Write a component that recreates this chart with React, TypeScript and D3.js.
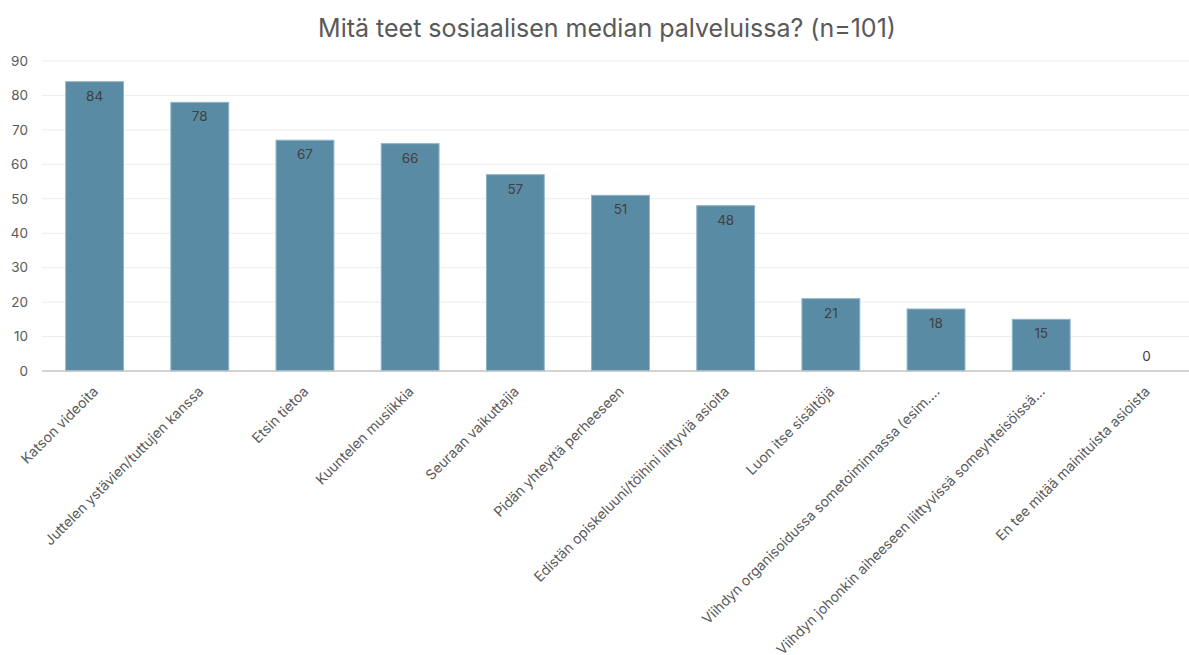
import * as d3 from 'd3'

const categories = [
  'Katson videoita',
  'Juttelen ystävien/tuttujen kanssa',
  'Etsin tietoa',
  'Kuuntelen musiikkia',
  'Seuraan vaikuttajia',
  'Pidän yhteyttä perheeseen',
  'Edistän opiskeluuni/töihini liittyviä asioita',
  'Luon itse sisältöjä',
  'Viihdyn organisoidussa sometoiminnassa (esim.…',
  'Viihdyn johonkin aiheeseen liittyvissä someyhteisöissä…',
  'En tee mitää mainituista asioista',
]
const values = [84, 78, 67, 66, 57, 51, 48, 21, 18, 15, 0]
const yTicks = [0, 10, 20, 30, 40, 50, 60, 70, 80, 90]

const width = 1189
const height = 655
const FONT = 'Inter, "Open Sans", sans-serif'
const BAR = '#5a8ba5'
const GRAY = '#595959'

export default function App() {
  const x = d3.scaleBand<string>().domain(categories).range([42, 1199]).paddingInner(0.45).paddingOuter(0.225)
  const y = d3.scaleLinear().domain([0, 90]).range([371, 61])

  return (
    <svg width={width} height={height} style={{ position: 'absolute', left: 0, top: 0, fontFamily: FONT }}>
      <text x={607} y={37} textAnchor="middle" fontSize={25} fill={GRAY}>
        Mitä teet sosiaalisen median palveluissa? (n=101)
      </text>
      {yTicks.map((t) => (
        <g key={t}>
          {t > 0 && <line x1={42} x2={1189} y1={y(t)} y2={y(t)} stroke="#ededed" strokeWidth={1} />}
          <text x={28} y={y(t)} dy="0.35em" textAnchor="end" fontSize={13.5} fill={GRAY}>
            {t}
          </text>
        </g>
      ))}
      {categories.map((c, i) => (
        <g key={c}>
          {values[i] > 0 && (
            <rect
              x={x(c)!}
              y={y(values[i])}
              width={x.bandwidth()}
              height={y(0) - y(values[i])}
              fill={BAR}
              stroke="#8fb3c6"
              strokeWidth={1}
            />
          )}
          <text
            x={x(c)! + x.bandwidth() / 2}
            y={values[i] > 0 ? y(values[i]) + 19 : y(0) - 10}
            textAnchor="middle"
            fontSize={13.5}
            fill="#404040"
          >
            {values[i]}
          </text>
          <text
            transform={`translate(${x(c)! + x.bandwidth() / 2 + 1},${389}) rotate(-45)`}
            textAnchor="end"
            dy="0.35em"
            fontSize={14}
            fill={GRAY}
          >
            {c}
          </text>
        </g>
      ))}
      <line x1={42} x2={1189} y1={y(0)} y2={y(0)} stroke="#c4c4c4" strokeWidth={1.5} />
    </svg>
  )
}
